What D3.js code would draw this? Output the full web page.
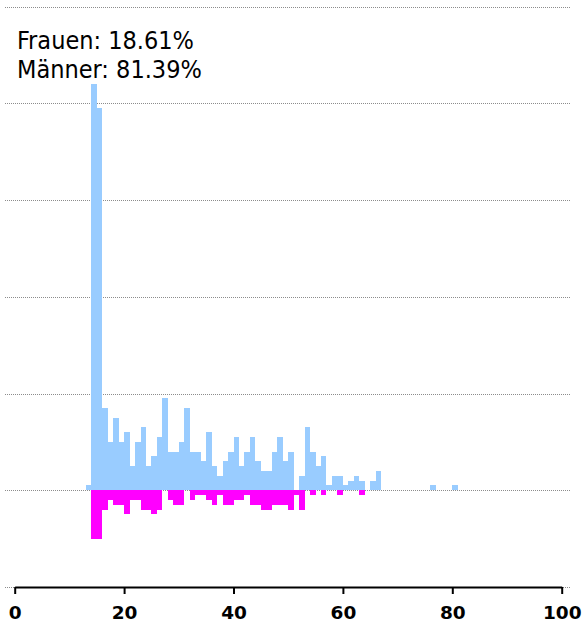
<!DOCTYPE html>
<html>
<head>
<meta charset="utf-8">
<script src="https://cdn.jsdelivr.net/npm/d3@7"></script>
<style>
html,body{margin:0;padding:0;background:#fff;}
svg{display:block;}
</style>
</head>
<body>
<svg id="chart" width="586" height="629"></svg>
<script>
// ---- data ----
const ages = [13,14,15,16,17,18,19,20,21,22,23,24,25,26,27,28,29,30,31,32,33,34,35,36,37,38,39,40,41,42,43,44,45,46,47,48,49,50,51,52,53,54,55,56,57,58,59,60,61,62,63,64,65,66,76,80];
const maenner = [1,84,79,17,10,15,10,12,5,10,13,5,7,11,19,8,8,10,17,8,8,6,12,5,3,6,8,11,5,8,11,6,4,4,8,11,6,8,0,3,13,8,5,7,1,3,3,1,2,3,2,0,2,4,1,1];
const frauen  = [0,10,10,4,2,3,3,5,2,2,4,4,5,4,0,2,3,3,0,2,1,1,2,3,1,3,3,2,2,1,3,3,4,4,3,3,3,4,1,4,0,1,0,1,0,0,1,0,0,0,1,0,0,0,0,0];
const xTicks = [0,20,40,60,80,100];
const gridValues = [0,20,40,60,80,100];
const labelFrauen = "Frauen";
const labelMaenner = "Männer";

// ---- layout ----
const svg = d3.select("#chart");
const x = d3.scaleLinear().domain([0,100]).range([14.7,561.7]);
const y = d3.scaleLinear().domain([-20,100]).range([587,6.7]);
const gridX0 = 5, gridX1 = 570;

// grid lines (dotted)
svg.append("g").selectAll("line").data(gridValues.concat([-20])).join("line")
  .attr("x1", gridX0).attr("x2", gridX1)
  .attr("y1", d => Math.round(y(d)) + 0.5).attr("y2", d => Math.round(y(d)) + 0.5)
  .attr("stroke", "#8c8c8c").attr("stroke-width", 1)
  .attr("stroke-dasharray", "1,1");

const data = ages.map((a,i) => ({age:a, m:maenner[i], f:frauen[i]}));

// male bars (above)
svg.append("g").attr("shape-rendering", "crispEdges")
  .selectAll("rect").data(data.filter(d => d.m > 0)).join("rect")
  .attr("x", d => x(d.age)).attr("width", d => x(d.age+1) - x(d.age))
  .attr("y", d => y(d.m)).attr("height", d => y(0) - y(d.m))
  .attr("fill", "#99ccff");

// female bars (below)
svg.append("g").attr("shape-rendering", "crispEdges")
  .selectAll("rect").data(data.filter(d => d.f > 0)).join("rect")
  .attr("x", d => x(d.age)).attr("width", d => x(d.age+1) - x(d.age))
  .attr("y", y(0)).attr("height", d => y(-d.f) - y(0))
  .attr("fill", "#ff00ff");

// x axis
const axis = d3.axisBottom(x).tickValues(xTicks).tickSize(7).tickSizeOuter(0).tickFormat(d3.format("d"));
const gAxis = svg.append("g").attr("transform", `translate(0,${y(-20)})`).call(axis);
gAxis.select(".domain").attr("stroke", "#000").attr("stroke-width", 2);
gAxis.selectAll(".tick line").attr("stroke", "#000").attr("stroke-width", 2);
gAxis.selectAll(".tick text")
  .attr("y", 32).attr("dy", 0)
  .attr("fill", "#000")
  .style("font-family", "'DejaVu Sans',sans-serif")
  .style("font-weight", "bold")
  .style("font-size", "18.5px");

// share labels
const sumF = d3.sum(frauen), sumM = d3.sum(maenner), total = sumF + sumM;
const fmt = v => (v*100).toFixed(2) + "%";
const lines = [`${labelFrauen}: ${fmt(sumF/total)}`, `${labelMaenner}: ${fmt(sumM/total)}`];
svg.append("g").selectAll("text").data(lines).join("text")
  .attr("x", 17).attr("y", (d,i) => 49 + i*29)
  .attr("fill", "#000")
  .style("font-family", "'DejaVu Sans Condensed','DejaVu Sans',sans-serif")
  .style("font-size", "25px")
  .text(d => d);
</script>
</body>
</html>
